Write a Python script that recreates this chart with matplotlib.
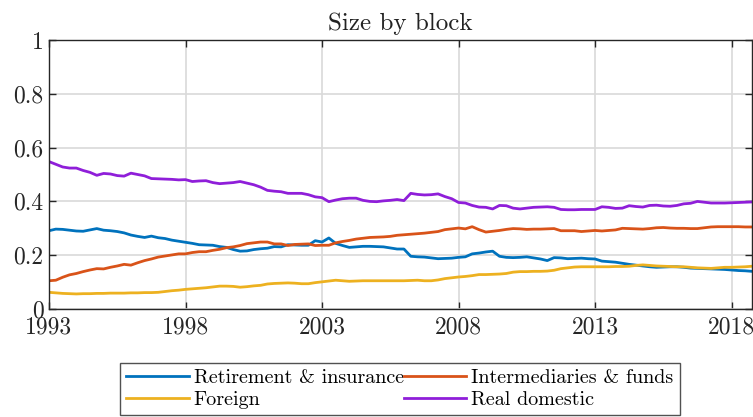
import numpy as np
import matplotlib
matplotlib.use("Agg")
import matplotlib.pyplot as plt

# quarterly shares, 1993Q1 .. 2018Q4
retirement = [
    0.291, 0.297, 0.296, 0.293, 0.290, 0.289, 0.294, 0.299,
    0.293, 0.291, 0.288, 0.283, 0.275, 0.270, 0.266, 0.271,
    0.265, 0.262, 0.256, 0.252, 0.248, 0.244, 0.239, 0.238,
    0.237, 0.232, 0.229, 0.221, 0.215, 0.216, 0.221, 0.224,
    0.226, 0.232, 0.231, 0.239, 0.238, 0.237, 0.237, 0.254,
    0.249, 0.264, 0.244, 0.236, 0.229, 0.231, 0.233, 0.233,
    0.232, 0.231, 0.227, 0.223, 0.223, 0.196, 0.194, 0.193,
    0.190, 0.187, 0.188, 0.189, 0.192, 0.194, 0.205, 0.208,
    0.212, 0.215, 0.196, 0.192, 0.191, 0.192, 0.194, 0.190,
    0.186, 0.180, 0.191, 0.190, 0.187, 0.188, 0.189, 0.187,
    0.186, 0.178, 0.176, 0.174, 0.170, 0.166, 0.163, 0.160,
    0.157, 0.155, 0.156, 0.157, 0.157, 0.155, 0.152, 0.151,
    0.150, 0.149, 0.148, 0.147, 0.145, 0.143, 0.142, 0.140,
]
intermediaries = [
    0.105, 0.107, 0.118, 0.127, 0.132, 0.139, 0.145, 0.150,
    0.149, 0.155, 0.160, 0.166, 0.163, 0.172, 0.180, 0.186,
    0.193, 0.197, 0.201, 0.205, 0.205, 0.210, 0.213, 0.213,
    0.218, 0.222, 0.228, 0.231, 0.236, 0.243, 0.246, 0.249,
    0.249, 0.242, 0.242, 0.236, 0.240, 0.241, 0.242, 0.236,
    0.237, 0.237, 0.246, 0.251, 0.255, 0.260, 0.263, 0.266,
    0.267, 0.268, 0.270, 0.274, 0.276, 0.278, 0.280, 0.282,
    0.285, 0.288, 0.295, 0.298, 0.301, 0.298, 0.306, 0.295,
    0.286, 0.289, 0.292, 0.296, 0.299, 0.298, 0.296, 0.297,
    0.297, 0.298, 0.299, 0.291, 0.291, 0.291, 0.288, 0.290,
    0.292, 0.290, 0.292, 0.294, 0.300, 0.299, 0.298, 0.297,
    0.299, 0.302, 0.303, 0.301, 0.300, 0.300, 0.299, 0.299,
    0.302, 0.305, 0.306, 0.306, 0.306, 0.306, 0.305, 0.305,
]
foreign = [
    0.062, 0.060, 0.058, 0.057, 0.056, 0.057, 0.057, 0.058,
    0.058, 0.059, 0.059, 0.059, 0.060, 0.060, 0.061, 0.061,
    0.062, 0.065, 0.068, 0.070, 0.073, 0.075, 0.077, 0.079,
    0.082, 0.085, 0.085, 0.084, 0.081, 0.083, 0.086, 0.088,
    0.093, 0.095, 0.096, 0.097, 0.096, 0.094, 0.094, 0.098,
    0.101, 0.104, 0.107, 0.105, 0.103, 0.104, 0.105, 0.105,
    0.105, 0.105, 0.105, 0.105, 0.105, 0.106, 0.107, 0.105,
    0.105, 0.108, 0.113, 0.116, 0.119, 0.121, 0.124, 0.128,
    0.128, 0.129, 0.130, 0.132, 0.137, 0.139, 0.139, 0.140,
    0.140, 0.141, 0.144, 0.150, 0.153, 0.156, 0.157, 0.157,
    0.157, 0.157, 0.157, 0.158, 0.158, 0.159, 0.162, 0.164,
    0.162, 0.160, 0.159, 0.158, 0.157, 0.157, 0.155, 0.153,
    0.152, 0.151, 0.153, 0.155, 0.155, 0.156, 0.157, 0.159,
]
real_domestic = [
    0.548, 0.538, 0.528, 0.524, 0.524, 0.515, 0.508, 0.497,
    0.504, 0.502, 0.496, 0.494, 0.505, 0.500, 0.495, 0.485,
    0.484, 0.483, 0.482, 0.480, 0.481, 0.474, 0.476, 0.477,
    0.470, 0.466, 0.468, 0.470, 0.474, 0.468, 0.462, 0.453,
    0.441, 0.438, 0.436, 0.430, 0.430, 0.430, 0.425, 0.417,
    0.414, 0.399, 0.405, 0.410, 0.412, 0.412, 0.404, 0.400,
    0.399, 0.402, 0.404, 0.407, 0.403, 0.430, 0.426, 0.424,
    0.425, 0.428, 0.418, 0.410, 0.396, 0.394, 0.385, 0.379,
    0.378, 0.372, 0.385, 0.384, 0.375, 0.372, 0.375, 0.378,
    0.379, 0.380, 0.378, 0.370, 0.369, 0.369, 0.370, 0.370,
    0.370, 0.380, 0.378, 0.374, 0.375, 0.384, 0.381, 0.379,
    0.385, 0.386, 0.383, 0.382, 0.385, 0.391, 0.393, 0.400,
    0.397, 0.394, 0.394, 0.394, 0.395, 0.396, 0.397, 0.398,
]
labels = ["Retirement & insurance", "Intermediaries & funds",
          "Foreign", "Real domestic"]
colors = ["#0072BD", "#D95319", "#EDB120", "#8F1ED9"]
year_ticks = [1993, 1998, 2003, 2008, 2013, 2018]

t = 1993 + np.arange(len(retirement)) / 4

plt.rcParams["font.family"] = "cmr10"
plt.rcParams["axes.formatter.use_mathtext"] = True

fig = plt.figure(figsize=(7.53, 4.17), dpi=100)
ax = fig.add_axes([0.0651, 0.259, 0.9336, 0.645])

lines = []
for series, lab, c in zip([retirement, intermediaries, foreign, real_domestic], labels, colors):
    ln, = ax.plot(t, series, color=c, lw=2.0, label=lab)
    lines.append(ln)

ax.set_xlim(1993, t[-1])
ax.set_ylim(0, 1)
ax.set_xticks(year_ticks)
ax.set_xticklabels([str(y) for y in year_ticks])
ax.set_yticks([0, 0.2, 0.4, 0.6, 0.8, 1])
ax.set_yticklabels(["0", "0.2", "0.4", "0.6", "0.8", "1"])
ax.grid(True, color="#d9d9d9", lw=1.2)
ax.set_axisbelow(True)
ax.tick_params(direction="in", length=5, width=1, top=True, right=True,
               labelsize=17, colors="#262626")
ax.tick_params(axis="x", pad=5)
ax.tick_params(axis="y", pad=4)
for s in ax.spines.values():
    s.set_color("#262626")
    s.set_linewidth(1.0)

ax.set_title("Size by block", fontsize=18, color="#222222", pad=7)

# row-wise order like the original legend
order = [0, 2, 1, 3]
leg = ax.legend([lines[i] for i in order], [labels[i] for i in order],
                loc="upper center", bbox_to_anchor=(400 / 753, 54 / 417),
                bbox_transform=fig.transFigure, ncol=2, fontsize=14.5,
                frameon=True, fancybox=False, edgecolor="#262626",
                handlelength=3.1, handletextpad=0.25, columnspacing=0.0,
                labelspacing=0.2, borderpad=0.3, borderaxespad=0)
leg.get_frame().set_linewidth(1.0)

fig.savefig("out.png", dpi=100)
